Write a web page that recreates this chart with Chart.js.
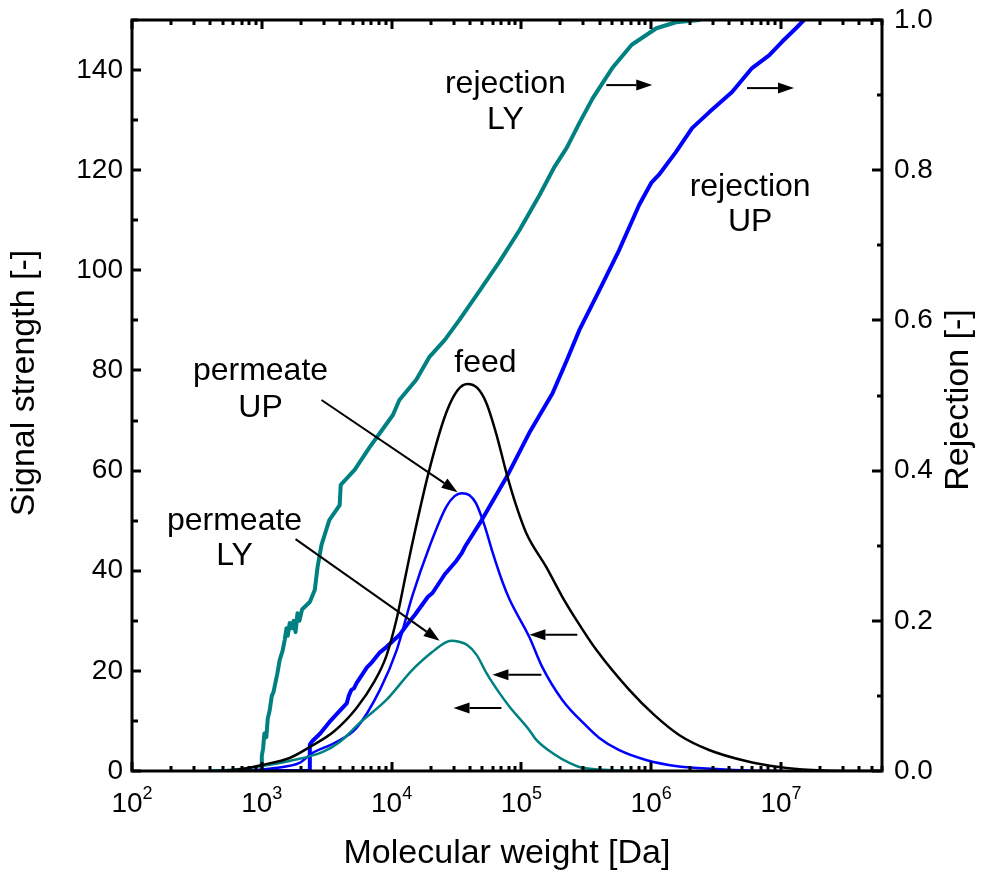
<!DOCTYPE html>
<html>
<head>
<meta charset="utf-8">
<script src="https://cdn.jsdelivr.net/npm/chart.js@4.4.1/dist/chart.umd.min.js"></script>
<style>
    html, body { margin: 0; padding: 0; background: #fff; }
</style>
</head>
<body>
<canvas id="mw-chart" width="983" height="876"></canvas>
<script>
// values; molecular weights kept as log10(Da)
var feedLogMw = [2.68, 2.85, 3.0, 3.215, 3.37, 3.56, 3.73, 3.87, 3.96, 4.04, 4.1, 4.16, 4.29, 4.42, 4.51, 4.585, 4.66, 4.73, 4.81, 4.885, 4.96, 5.038, 5.192, 5.315, 5.423, 5.577, 5.831, 6.023, 6.215, 6.446, 6.73, 6.985, 7.24, 7.52, 7.77];
var feedSignal = [0, 0.4, 1.2, 2.6, 4.8, 8.0, 12.6, 18.0, 23.0, 30.5, 38.0, 45.5, 60.1, 71.5, 76.1, 77.3, 76.5, 73.5, 67, 59.5, 53, 47.5, 40.7, 34.8, 30.2, 24.2, 16.2, 11.2, 7.2, 4.2, 2.0, 0.8, 0.2, 0, 0];

var permUpLogMw = [2.885, 3.1, 3.29, 3.39, 3.56, 3.73, 3.91, 4.04, 4.16, 4.29, 4.42, 4.485, 4.54, 4.6, 4.65, 4.715, 4.78, 4.855, 4.91, 5.06, 5.16, 5.315, 5.5, 5.6, 5.75, 5.96, 6.215, 6.5, 6.75, 6.98];
var permUpSignal = [0, 0.6, 1.6, 3.6, 5.6, 8.6, 16.2, 24.2, 35, 44.7, 52.7, 54.9, 55.5, 55.1, 53.5, 49.1, 43.5, 37.7, 34.2, 26.8, 20.8, 14.2, 9.0, 6.6, 4.2, 2.2, 0.9, 0.4, 0.1, 0];

var permLyLogMw = [2.62, 2.83, 3.0, 3.215, 3.47, 3.6, 3.754, 3.96, 4.16, 4.315, 4.41, 4.46, 4.52, 4.58, 4.655, 4.73, 4.83, 4.91, 5.06, 5.115, 5.25, 5.37, 5.446, 5.6, 5.85];
var permLySignal = [0, 0.4, 1.0, 2.0, 3.8, 5.8, 9.6, 14.2, 20.2, 23.8, 25.6, 26.0, 25.8, 25.2, 23.2, 19.6, 15.6, 12.8, 8.2, 6.2, 3.4, 1.6, 0.8, 0.3, 0];

var rejLyLogMw = [2.62, 3.0, 3.0, 3.01, 3.02, 3.035, 3.046, 3.06, 3.077, 3.09, 3.108, 3.12, 3.138, 3.16, 3.177, 3.19, 3.2, 3.215, 3.23, 3.245, 3.26, 3.275, 3.29, 3.31, 3.37, 3.408, 3.43, 3.46, 3.52, 3.6, 3.608, 3.715, 3.83, 3.91, 4.01, 4.06, 4.19, 4.29, 4.41, 4.52, 4.68, 4.83, 4.985, 5.14, 5.25, 5.35, 5.45, 5.55, 5.7, 5.85, 6.04, 6.19, 6.37];
var rejLy = [0, 0, 0.02, 0.03, 0.05, 0.045, 0.07, 0.08, 0.1, 0.105, 0.12, 0.13, 0.148, 0.16, 0.175, 0.19, 0.18, 0.197, 0.19, 0.2, 0.185, 0.21, 0.2, 0.215, 0.225, 0.241, 0.272, 0.301, 0.334, 0.354, 0.381, 0.401, 0.431, 0.45, 0.474, 0.494, 0.521, 0.551, 0.574, 0.6, 0.64, 0.678, 0.72, 0.767, 0.803, 0.83, 0.864, 0.896, 0.936, 0.967, 0.989, 0.997, 1.0];

var rejUpLogMw = [2.885, 3.37, 3.37, 3.39, 3.45, 3.52, 3.6, 3.654, 3.67, 3.69, 3.71, 3.73, 3.81, 3.85, 3.91, 3.96, 4.06, 4.12, 4.18, 4.23, 4.28, 4.315, 4.41, 4.5, 4.54, 4.57, 4.68, 4.885, 5.06, 5.24, 5.35, 5.446, 5.6, 5.754, 5.908, 6.0, 6.06, 6.19, 6.315, 6.446, 6.623, 6.777, 6.908, 7.008, 7.115, 7.177];
var rejUp = [0, 0, 0.035, 0.04, 0.05, 0.065, 0.08, 0.09, 0.1, 0.108, 0.11, 0.117, 0.138, 0.145, 0.158, 0.165, 0.181, 0.195, 0.208, 0.22, 0.232, 0.237, 0.262, 0.28, 0.29, 0.3, 0.33, 0.391, 0.45, 0.503, 0.547, 0.587, 0.64, 0.694, 0.754, 0.783, 0.794, 0.824, 0.856, 0.877, 0.904, 0.936, 0.953, 0.971, 0.989, 1.0];

var mwTicks = [1e2, 1e3, 1e4, 1e5, 1e6, 1e7];
var signalTicks = [0, 20, 40, 60, 80, 100, 120, 140];
var rejTicks = [0, 0.2, 0.4, 0.6, 0.8, 1.0];

// annotation texts [text, log10 MW, signal] and arrows [log10 MW, signal] from -> to
var labelTexts = [
    ['feed', 4.723, 81.5],
    ['permeate', 2.99, 79.9],
    ['UP', 2.99, 72.5],
    ['permeate', 2.79, 49.9],
    ['LY', 2.79, 42.9],
    ['rejection', 4.877, 137.2],
    ['LY', 4.877, 130.0],
    ['rejection', 6.762, 116.6],
    ['UP', 6.762, 109.6]
];
var arrowLines = [
    [3.46, 74.1, 4.508, 55.7],
    [3.26, 46.3, 4.37, 26.0],
    [5.654, 137.0, 6.008, 137.0],
    [6.738, 136.4, 7.1, 136.4],
    [5.431, 27.2, 5.062, 27.2],
    [5.154, 19.2, 4.777, 19.2],
    [4.846, 12.6, 4.477, 12.6]
];

var FONT = "'Liberation Sans', Arial, Helvetica, sans-serif";
var TEAL = '#008080';
var BLUE = '#0000ff';

function toPoints(logMw, values) {
    return logMw.map(function (lx, i) {
        return { x: Math.pow(10, lx), y: values[i] };
    });
}

function noEdgePadding(scale) {
    scale.paddingTop = 0;
    scale.paddingBottom = 0;
}

function drawRotatedTitle(ctx, text, x, y) {
    ctx.save();
    ctx.font = '34px ' + FONT;
    ctx.textAlign = 'center';
    ctx.textBaseline = 'middle';
    ctx.translate(x, y);
    ctx.rotate(-Math.PI / 2);
    ctx.fillText(text, 0, 0);
    ctx.restore();
}

var mwFramePlugin = {
    id: 'mwFrame',
    afterDatasetsDraw: function (chart) {
        var ctx = chart.ctx;
        var area = chart.chartArea;
        var xs = chart.scales.x;
        var yl = chart.scales.ySignal;
        var yr = chart.scales.yRej;

        ctx.save();
        ctx.strokeStyle = '#000';
        ctx.fillStyle = '#000';
        ctx.lineWidth = 3;
        ctx.lineCap = 'butt';

        // inward ticks on the log axis, bottom and top
        ctx.beginPath();
        for (var n = 2; n <= 7; n++) {
            for (var k = 1; k <= 9; k++) {
                var v = k * Math.pow(10, n);
                if (v > xs.max) continue;
                var px = Math.round(xs.getPixelForValue(v));
                var len = k === 1 ? 9 : 5;
                ctx.moveTo(px, area.bottom);
                ctx.lineTo(px, area.bottom - len);
                ctx.moveTo(px, area.top);
                ctx.lineTo(px, area.top + len);
            }
        }
        // left axis ticks
        for (var s = 0; s <= 150; s += 10) {
            var py = Math.round(yl.getPixelForValue(s));
            var l = s % 20 === 0 ? 9 : 6;
            ctx.moveTo(area.left, py);
            ctx.lineTo(area.left + l, py);
        }
        // right axis ticks
        for (var r = 0; r <= 10; r++) {
            var pr = Math.round(yr.getPixelForValue(r / 10));
            var lr = r % 2 === 0 ? 10 : 5;
            ctx.moveTo(area.right, pr);
            ctx.lineTo(area.right - lr, pr);
        }
        ctx.stroke();

        ctx.strokeRect(area.left, area.top, area.right - area.left, area.bottom - area.top);

        // decade labels 10^n with a raised exponent
        ctx.textBaseline = 'alphabetic';
        ctx.textAlign = 'left';
        mwTicks.forEach(function (v) {
            var e = String(Math.round(Math.log10(v)));
            ctx.font = '28px ' + FONT;
            var w1 = ctx.measureText('10').width;
            ctx.font = '18px ' + FONT;
            var w2 = ctx.measureText(e).width;
            var x0 = xs.getPixelForValue(v) - (w1 + w2) / 2;
            ctx.font = '28px ' + FONT;
            ctx.fillText('10', x0, area.bottom + 41);
            ctx.font = '18px ' + FONT;
            ctx.fillText(e, x0 + w1, area.bottom + 28);
        });

        // arrows
        ctx.lineWidth = 2;
        arrowLines.forEach(function (a) {
            var x1 = xs.getPixelForValue(Math.pow(10, a[0]));
            var y1 = yl.getPixelForValue(a[1]);
            var x2 = xs.getPixelForValue(Math.pow(10, a[2]));
            var y2 = yl.getPixelForValue(a[3]);
            var ang = Math.atan2(y2 - y1, x2 - x1);
            var hl = 16, hw = 5.5;
            var bx = x2 - hl * Math.cos(ang);
            var by = y2 - hl * Math.sin(ang);
            ctx.beginPath();
            ctx.moveTo(x1, y1);
            ctx.lineTo(bx, by);
            ctx.stroke();
            ctx.beginPath();
            ctx.moveTo(x2, y2);
            ctx.lineTo(bx + hw * Math.sin(ang), by - hw * Math.cos(ang));
            ctx.lineTo(bx - hw * Math.sin(ang), by + hw * Math.cos(ang));
            ctx.closePath();
            ctx.fill();
        });

        // curve labels
        ctx.font = '32px ' + FONT;
        ctx.textAlign = 'center';
        ctx.textBaseline = 'middle';
        labelTexts.forEach(function (t) {
            ctx.fillText(t[0], xs.getPixelForValue(Math.pow(10, t[1])), yl.getPixelForValue(t[2]));
        });
        ctx.restore();

        // axis titles on both sides read bottom to top
        drawRotatedTitle(ctx, 'Signal strength [-]', 25, 383);
        drawRotatedTitle(ctx, 'Rejection [-]', 959, 400);
    }
};

var MwChart = new Chart(document.getElementById('mw-chart'), {
    type: 'line',
    data: {
        datasets: [{
            label: 'feed',
            data: toPoints(feedLogMw, feedSignal),
            borderColor: '#000',
            borderWidth: 2.5,
            yAxisID: 'ySignal'
        }, {
            label: 'permeate LY',
            data: toPoints(permLyLogMw, permLySignal),
            borderColor: TEAL,
            borderWidth: 2.5,
            yAxisID: 'ySignal'
        }, {
            label: 'permeate UP',
            data: toPoints(permUpLogMw, permUpSignal),
            borderColor: BLUE,
            borderWidth: 2.5,
            yAxisID: 'ySignal'
        }, {
            label: 'rejection LY',
            data: toPoints(rejLyLogMw, rejLy),
            borderColor: TEAL,
            borderWidth: 4,
            tension: 0,
            cubicInterpolationMode: 'default',
            yAxisID: 'yRej'
        }, {
            label: 'rejection UP',
            data: toPoints(rejUpLogMw, rejUp),
            borderColor: BLUE,
            borderWidth: 4,
            tension: 0,
            cubicInterpolationMode: 'default',
            yAxisID: 'yRej'
        }]
    },
    plugins: [mwFramePlugin],
    options: {
        responsive: false,
        animation: false,
        devicePixelRatio: 1,
        layout: { padding: { top: 20, left: 0, right: 0, bottom: 0 } },
        elements: {
            point: { radius: 0 },
            line: { cubicInterpolationMode: 'monotone', borderCapStyle: 'round', borderJoinStyle: 'round' }
        },
        plugins: {
            legend: { display: false },
            tooltip: { enabled: false }
        },
        scales: {
            x: {
                type: 'logarithmic',
                position: 'bottom',
                min: 100,
                max: 6e7,
                afterBuildTicks: function (scale) {
                    scale.ticks = mwTicks.map(function (v) { return { value: v }; });
                },
                afterFit: function (scale) {
                    scale.height = 105;
                    scale.paddingLeft = 0;
                    scale.paddingRight = 0;
                },
                grid: { display: false, drawTicks: false },
                border: { display: false },
                ticks: { display: false },
                title: {
                    display: true,
                    text: 'Molecular weight [Da]',
                    color: '#000',
                    font: { family: FONT, size: 34 },
                    padding: { top: 0, bottom: 2 }
                }
            },
            ySignal: {
                type: 'linear',
                position: 'left',
                min: 0,
                max: 150,
                afterBuildTicks: function (scale) {
                    scale.ticks = signalTicks.map(function (v) { return { value: v }; });
                },
                afterFit: function (scale) {
                    scale.width = 132;
                    noEdgePadding(scale);
                },
                grid: { display: false, drawTicks: false },
                border: { display: false },
                ticks: {
                    color: '#000',
                    padding: 9,
                    font: { family: FONT, size: 28 }
                }
            },
            yRej: {
                type: 'linear',
                position: 'right',
                min: 0,
                max: 1,
                afterBuildTicks: function (scale) {
                    scale.ticks = rejTicks.map(function (v) { return { value: v }; });
                },
                afterFit: function (scale) {
                    scale.width = 101;
                    noEdgePadding(scale);
                },
                grid: { display: false, drawTicks: false },
                border: { display: false },
                ticks: {
                    color: '#000',
                    padding: 12,
                    font: { family: FONT, size: 28 },
                    callback: function (value) { return Number(value).toFixed(1); }
                }
            }
        }
    }
});
</script>
</body>
</html>
